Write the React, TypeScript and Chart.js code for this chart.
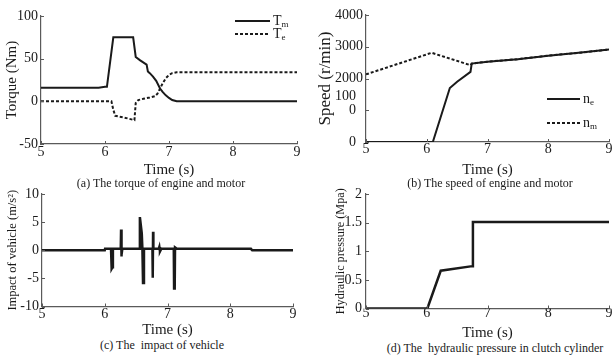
import React, { useEffect, useRef } from "react";
import { Chart, registerables } from "chart.js";

Chart.register(...registerables);

const FONT = "'Liberation Serif', 'Times New Roman', serif";
const INK = "#1a1a1a";
const AXIS = "#5a5a5a";

// ---------- (a) torque of engine and motor ----------
const tmTime = [5, 5.9, 6.0, 6.03, 6.13, 6.44, 6.48, 6.55, 6.65, 6.67, 6.7, 6.75, 6.8, 6.86, 6.9, 6.95, 7.0, 7.05, 7.12, 9];
const tmValue = [16, 16, 17, 17, 75, 75, 52, 48, 43, 35, 33, 29, 24, 15, 11, 7, 4, 1.5, 0, 0];
const teTime = [5, 6.1, 6.13, 6.16, 6.3, 6.46, 6.48, 6.52, 6.6, 6.7, 6.78, 6.82, 6.86, 6.9, 6.95, 7.0, 7.05, 7.12, 9];
const teValue = [0, 0, -10, -17, -19, -22, -2, 1.5, 3, 4.5, 6, 9, 15, 21, 27, 31, 33, 34, 34];

// ---------- (b) speed of engine and motor ----------
const neTime = [5, 6.1, 6.38, 6.5, 6.72, 6.74, 7.0, 7.5, 8.0, 8.5, 9];
const neValue = [0, 0, 1700, 1900, 2210, 2470, 2530, 2610, 2720, 2810, 2910];
const nmTime = [5, 6.08, 6.72, 6.74, 7.0, 7.5, 8.0, 8.5, 9];
const nmValue = [2130, 2810, 2420, 2470, 2530, 2610, 2720, 2810, 2910];

// ---------- (c) impact of vehicle ----------
const impactTime = [5, 6.0, 6.005, 6.1, 6.11, 6.125, 6.13, 6.255, 6.26, 6.265, 6.27, 6.28, 6.55, 6.56, 6.59, 6.6, 6.61, 6.625, 6.76, 6.765, 6.77, 6.775, 6.86, 6.87, 6.88, 6.9, 7.1, 7.105, 7.115, 7.12, 7.15, 8.33, 8.35, 9];
const impactValue = [0, 0, 0.25, 0.25, -3.3, -3.0, 0.25, 0.25, 3.7, -1.1, -0.8, 0.25, 0.25, 5.9, 3, 0.25, -5.8, 0.25, 0.25, -4.9, 3.3, 0.25, 0.25, 0.6, -0.2, 0.25, 0.25, -6.8, -6.5, 0.5, 0.25, 0.25, 0, 0];

// ---------- (d) hydraulic pressure in clutch cylinder ----------
const pressureTime = [5, 6.01, 6.23, 6.75, 6.76, 9];
const pressureValue = [0, 0, 0.66, 0.74, 1.51, 1.51];

const timeRange = [5, 9];

const toPoints = (xs: number[], ys: number[]) => xs.map((x, i) => ({ x, y: ys[i] }));

const inwardTicks = {
  id: "inwardTicks",
  afterDraw(chart: any) {
    const { ctx, chartArea: a, scales } = chart;
    ctx.save();
    ctx.strokeStyle = AXIS;
    ctx.lineWidth = 1;
    scales.x.ticks.forEach((t: any) => {
      const px = Math.round(scales.x.getPixelForValue(t.value)) + 0.5;
      ctx.beginPath();
      ctx.moveTo(px, a.bottom);
      ctx.lineTo(px, a.bottom - 3);
      ctx.stroke();
    });
    scales.y.ticks.forEach((t: any) => {
      const py = Math.round(scales.y.getPixelForValue(t.value)) + 0.5;
      ctx.beginPath();
      ctx.moveTo(a.left, py);
      ctx.lineTo(a.left + 3, py);
      ctx.stroke();
    });
    ctx.restore();
  },
};

type LegendItem = { main: string; sub: string; dash: number[]; x1: number; x2: number; y: number };

const makeLegend = (items: LegendItem[]) => ({
  id: "subLegend",
  afterDatasetsDraw(chart: any) {
    const ctx = chart.ctx;
    ctx.save();
    items.forEach((it) => {
      ctx.strokeStyle = INK;
      ctx.lineWidth = 2;
      ctx.setLineDash(it.dash);
      ctx.beginPath();
      ctx.moveTo(it.x1, it.y);
      ctx.lineTo(it.x2, it.y);
      ctx.stroke();
      ctx.setLineDash([]);
      ctx.fillStyle = INK;
      ctx.textBaseline = "middle";
      ctx.textAlign = "left";
      ctx.font = `14px ${FONT}`;
      const tx = it.x2 + 3;
      ctx.fillText(it.main, tx, it.y);
      const w = ctx.measureText(it.main).width;
      ctx.font = `9px ${FONT}`;
      ctx.fillText(it.sub, tx + w, it.y + 4);
    });
    ctx.restore();
  },
});

type PanelCfg = {
  datasets: any[];
  yMin: number;
  yMax: number;
  yStep: number;
  yTitle: string;
  yTitleSize: number;
  yTitlePad: number;
  yWidth: number;
  xHeight: number;
  padTop: number;
  padRight: number;
  xTickPad: number;
  yTickPad: number;
  yLabel?: (v: number) => any;
  plugins?: any[];
};

function buildConfig(p: PanelCfg): any {
  return {
    type: "line",
    data: { datasets: p.datasets },
    plugins: [inwardTicks, ...(p.plugins || [])],
    options: {
      responsive: false,
      animation: false,
      events: [],
      layout: { padding: { top: p.padTop, right: p.padRight, left: 0, bottom: 0 } },
      plugins: { legend: { display: false }, tooltip: { enabled: false } },
      elements: { point: { radius: 0 }, line: { tension: 0, borderJoinStyle: "miter" } },
      scales: {
        x: {
          type: "linear",
          min: timeRange[0],
          max: timeRange[1],
          afterFit: (s: any) => {
            s.height = p.xHeight;
            s.paddingLeft = 0;
            s.paddingRight = 0;
          },
          ticks: {
            stepSize: 1,
            color: INK,
            padding: p.xTickPad,
            maxRotation: 0,
            autoSkip: false,
            font: { family: FONT, size: 14, weight: "normal", lineHeight: 1.1 },
          },
          grid: { display: true, drawOnChartArea: false, drawTicks: false, color: AXIS },
          border: { display: true, color: AXIS, width: 1.2 },
          title: {
            display: true,
            text: "Time (s)",
            color: INK,
            padding: { top: 0, bottom: 0 },
            font: { family: FONT, size: 15, weight: "normal", lineHeight: 1.1 },
          },
        },
        y: {
          type: "linear",
          min: p.yMin,
          max: p.yMax,
          afterFit: (s: any) => {
            s.width = p.yWidth;
            s.paddingTop = 0;
            s.paddingBottom = 0;
          },
          ticks: {
            stepSize: p.yStep,
            color: INK,
            padding: p.yTickPad,
            autoSkip: false,
            font: { family: FONT, size: 14, weight: "normal", lineHeight: 1.0 },
            callback: p.yLabel ? (v: any) => p.yLabel!(Number(v)) : (v: any) => String(v),
          },
          grid: { display: true, drawOnChartArea: false, drawTicks: false, color: AXIS },
          border: { display: true, color: AXIS, width: 1.2 },
          title: {
            display: true,
            text: p.yTitle,
            color: INK,
            padding: { top: p.yTitlePad, bottom: 0 },
            font: { family: FONT, size: p.yTitleSize, weight: "normal", lineHeight: 1.1 },
          },
        },
      },
    },
  };
}

const solid = (data: any[], width = 2) => ({
  data,
  borderColor: INK,
  borderWidth: width,
  fill: false,
  pointRadius: 0,
});
const dashed = (data: any[]) => ({
  data,
  borderColor: INK,
  borderWidth: 2,
  borderDash: [3, 2],
  fill: false,
  pointRadius: 0,
});

function Panel({ cfg, left, top, width, height }: { cfg: PanelCfg; left: number; top: number; width: number; height: number }) {
  const ref = useRef<HTMLCanvasElement>(null);
  useEffect(() => {
    if (!ref.current) return;
    const chart = new Chart(ref.current, buildConfig(cfg));
    return () => chart.destroy();
  }, []);
  return (
    <canvas
      ref={ref}
      width={width}
      height={height}
      style={{ position: "absolute", left, top, width, height }}
    />
  );
}

const panelA: PanelCfg = {
  datasets: [solid(toPoints(tmTime, tmValue)), dashed(toPoints(teTime, teValue))],
  yMin: -50,
  yMax: 100,
  yStep: 50,
  yTitle: "Torque (Nm)",
  yTitleSize: 15,
  yTitlePad: 4,
  yWidth: 41,
  xHeight: 34,
  padTop: 16,
  padRight: 9,
  xTickPad: 1,
  yTickPad: 3,
  plugins: [
    makeLegend([
      { main: "T", sub: "m", dash: [], x1: 235, x2: 270, y: 21 },
      { main: "T", sub: "e", dash: [3, 2], x1: 235, x2: 270, y: 34 },
    ]),
  ],
};

const panelB: PanelCfg = {
  datasets: [solid(toPoints(neTime, neValue)), dashed(toPoints(nmTime, nmValue))],
  yMin: 0,
  yMax: 4000,
  yStep: 1000,
  yTitle: "Speed (r/min)",
  yTitleSize: 17,
  yTitlePad: 10,
  yWidth: 60,
  xHeight: 36,
  padTop: 15,
  padRight: 3,
  xTickPad: 0,
  yTickPad: 3,
  yLabel: (v) => (v === 1000 ? ["100  ", "0  ", ""] : v === 0 ? "0  " : String(v)),
  plugins: [
    makeLegend([
      { main: "n", sub: "e", dash: [], x1: 241, x2: 274, y: 99 },
      { main: "n", sub: "m", dash: [3, 2], x1: 241, x2: 274, y: 123 },
    ]),
  ],
};

const panelC: PanelCfg = {
  datasets: [solid(toPoints(impactTime, impactValue), 2.5)],
  yMin: -10,
  yMax: 10,
  yStep: 5,
  yTitle: "Impact of vehicle (m/s²)",
  yTitleSize: 12.5,
  yTitlePad: 6,
  yWidth: 42,
  xHeight: 31.5,
  padTop: 9,
  padRight: 13,
  xTickPad: 0,
  yTickPad: 3,
};

const panelD: PanelCfg = {
  datasets: [solid(toPoints(pressureTime, pressureValue), 2.5)],
  yMin: 0,
  yMax: 2,
  yStep: 0.5,
  yTitle: "Hydraulic pressure (Mpa)",
  yTitleSize: 12.2,
  yTitlePad: 28,
  yWidth: 60,
  xHeight: 32.5,
  padTop: 9,
  padRight: 3,
  xTickPad: -3,
  yTickPad: 4,
};

const captionStyle = (cx: number, cy: number): React.CSSProperties => ({
  position: "absolute",
  left: cx,
  top: cy,
  transform: "translate(-50%, -50%)",
  whiteSpace: "pre",
  fontFamily: FONT,
  fontSize: 12,
  color: INK,
  lineHeight: 1,
});

export default function App() {
  return (
    <div
      style={{
        position: "fixed",
        left: 0,
        top: 0,
        width: 612,
        height: 356,
        background: "#ffffff",
        overflow: "hidden",
      }}
    >
      <Panel cfg={panelA} left={0} top={0} width={306} height={178} />
      <Panel cfg={panelB} left={306} top={0} width={306} height={178} />
      <Panel cfg={panelC} left={0} top={185} width={306} height={153} />
      <Panel cfg={panelD} left={306} top={185} width={306} height={156} />
      <div style={captionStyle(161, 183)}>(a) The torque of engine and motor</div>
      <div style={captionStyle(490, 183)}>(b) The speed of engine and motor</div>
      <div style={captionStyle(162, 345)}>(c) The  impact of vehicle</div>
      <div style={captionStyle(495, 348)}>(d) The  hydraulic pressure in clutch cylinder</div>
    </div>
  );
}
